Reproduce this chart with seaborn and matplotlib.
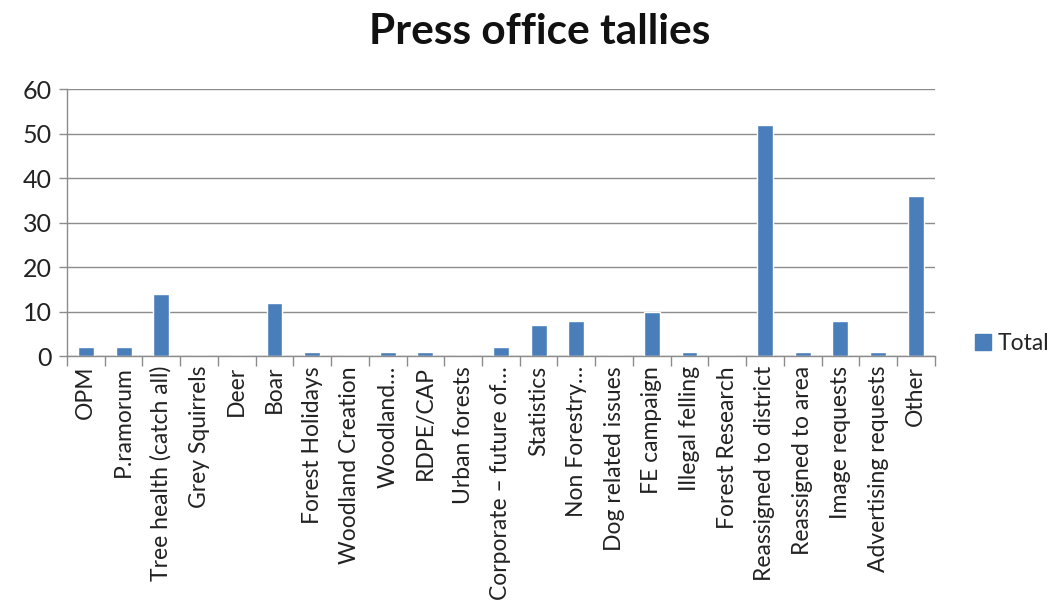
import numpy as np
import pandas as pd
import matplotlib
matplotlib.use("Agg")
import matplotlib.pyplot as plt
from matplotlib.ticker import FixedLocator
from matplotlib.patches import Patch
import seaborn as sns

categories = [
    "OPM", "P.ramorum", "Tree health (catch all)", "Grey Squirrels", "Deer",
    "Boar", "Forest Holidays", "Woodland Creation", "Woodland\u2026", "RDPE/CAP",
    "Urban forests", "Corporate \u2013 future of\u2026", "Statistics", "Non Forestry\u2026",
    "Dog related issues", "FE campaign", "Illegal felling", "Forest Research",
    "Reassigned to district", "Reassigned to area", "Image requests",
    "Advertising requests", "Other",
]
totals = [2, 2, 14, 0, 0, 12, 1, 0, 1, 1, 0, 2, 7, 8, 0, 10, 1, 0, 52, 1, 8, 1, 36]
y_ticks = [0, 10, 20, 30, 40, 50, 60]

df = pd.DataFrame({"topic": categories, "Total": totals})

sns.set_theme(style="white")
plt.rcParams["font.family"] = ["Lato", "DejaVu Sans"]

bar_color = "#4a7ebb"
fig = plt.figure(figsize=(10.55, 6.10), dpi=100)
ax = fig.add_axes([0.0635, 0.416, 0.8225, 0.438])

sns.barplot(data=df, x="topic", y="Total", color=bar_color, width=0.42,
            saturation=1, ax=ax)

ax.set_xlim(-0.5, len(categories) - 0.5)
ax.set_ylim(0, 60)
ax.set_yticks(y_ticks)
ax.yaxis.grid(True, color="#8c8c8c", linewidth=1.0)
ax.set_axisbelow(True)
ax.set_xlabel("")
ax.set_ylabel("")

for side in ("top", "right"):
    ax.spines[side].set_visible(False)
for side in ("left", "bottom"):
    ax.spines[side].set_color("#8c8c8c")
    ax.spines[side].set_linewidth(1.0)

ax.tick_params(axis="y", which="major", left=True, length=6, width=1.0,
               color="#8c8c8c", labelsize=18, labelcolor="#222222", pad=5)
ax.set_xticks(np.arange(len(categories)))
ax.set_xticklabels(categories, rotation=90, fontsize=16.5, color="#222222")
ax.tick_params(axis="x", which="major", bottom=False, length=0, pad=7)
ax.xaxis.set_minor_locator(FixedLocator(np.arange(-0.5, len(categories), 1.0)))
ax.tick_params(axis="x", which="minor", bottom=True, length=7, width=1.0,
               color="#8c8c8c")

fig.suptitle("Press office tallies", x=0.512, y=0.978, fontsize=30.5,
             fontweight="bold", color="#111111")

handle = Patch(facecolor=bar_color, edgecolor=bar_color)
fig.legend([handle], ["Total"], loc="center left", bbox_to_anchor=(0.92, 0.437),
           frameon=False, fontsize=16.5, handlelength=0.7, handleheight=0.7,
           handletextpad=0.3, borderaxespad=0, borderpad=0.2)

fig.savefig("out.png", dpi=100)
